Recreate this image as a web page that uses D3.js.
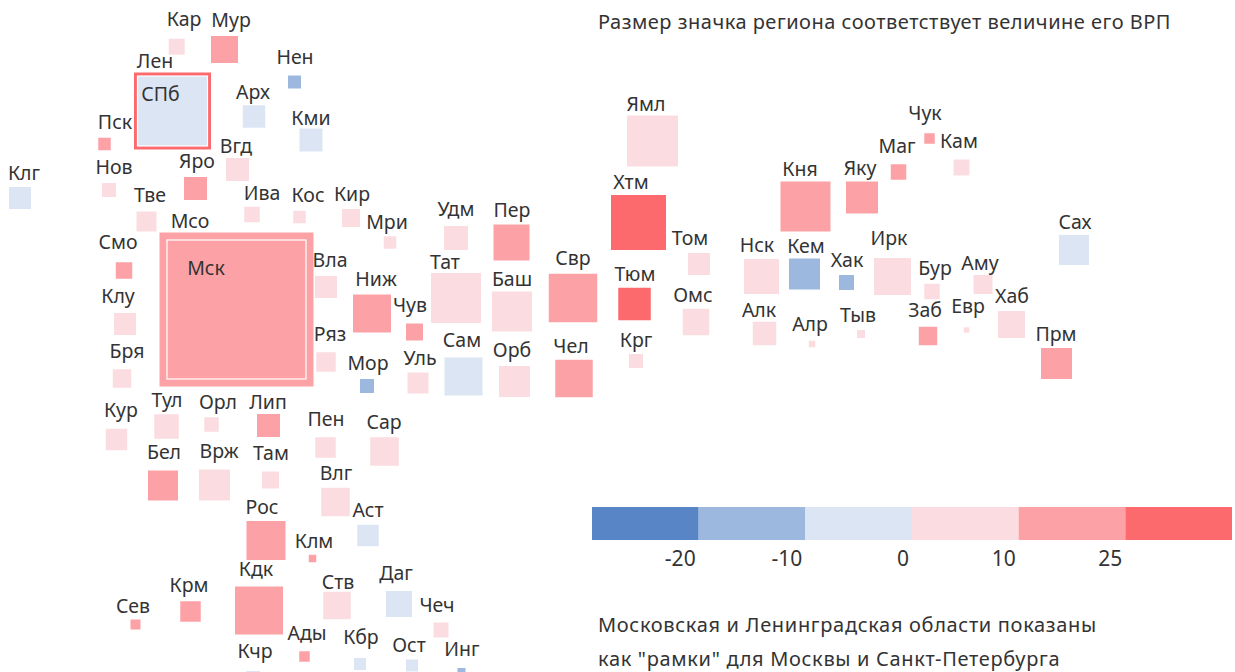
<!DOCTYPE html>
<html>
<head>
<meta charset="utf-8">
<script src="https://cdn.jsdelivr.net/npm/d3@7"></script>
<style>
html, body { margin: 0; padding: 0; background: #fff; overflow: hidden; }
text { font-family: "Noto Sans", sans-serif; fill: #333; }
</style>
</head>
<body>
<div id="plot"></div>
<script>
// regions of the tile map, all arrays below run in the same order
var regions = ['Кар','Мур','Нен','СПб','Арх','Кми','Пск','Вгд','Нов','Яро','Клг','Тве','Ива','Кос','Кир','Мри',
    'Мск','Смо','Вла','Ниж','Клу','Бря','Ряз','Мор','Уль','Сам','Кур','Тул','Орл','Лип','Пен','Сар',
    'Бел','Врж','Там','Влг','Аст','Рос','Клм','Кдк','Крм','Сев','Ств','Даг','Чеч','Ады','Кбр','Ост','Инг','Кчр',
    'Удм','Пер','Тат','Баш','Чув','Свр','Орб','Чел','Хтм','Тюм','Крг','Том','Омс','Ямл',
    'Чук','Кам','Маг','Кня','Яку','Сах','Нск','Кем','Хак','Ирк','Бур','Аму','Хаб','Алк','Алр','Тыв','Заб','Евр','Прм'];

// tile centres in map units
var mapX = [176.7,224.5,294.5,172.5,254,311,104.5,237.5,109,195.5,20,146.5,252,299.5,351,390,
    236.5,124,326,372,125,122,326,367,418,463.5,116.5,166.5,211.5,268.5,325.5,384.5,
    163,214.5,270.5,335.5,368,266,312.5,259,190.5,135.5,337,399,441,304.5,360,412,461.5,253,
    456,511.5,456,512,414.5,573,514.5,574,638.5,634.5,636,699,696,652.5,
    929.5,961.5,898.5,805.5,862,1074,761.5,804.5,846.5,892.5,932,983,1011.5,764.5,812,861,928,966.5,1056.5];
var mapY = [46.7,49.5,82,111,116.5,140,144,169.5,190,188.5,198,221.5,214.5,217,218,242.5,
    309.5,270.5,287,313.5,324,378.5,362,386,383,376.5,439.5,426.5,424.5,425.5,447.5,451.5,
    485.5,485,480,502,535.5,540.5,558.5,610.5,611.5,624.5,605.5,604,630,656.5,664,665.5,672,678,
    238,242.5,298,311.5,332,298,381.5,378.5,222.5,304,361,264,322,141,
    138.5,167.5,172,206.5,197.5,250,276.5,274,282.5,276.5,291.5,284.5,324.5,333.5,344,334,336,330,363.5];

// GRP, tile area follows it
var grp = [25.6,72.9,16.9,490,50.6,52.9,15.6,52.9,19.6,52.9,48.4,40,24,15.6,32.4,15.6,
    1932,27.2,48.4,144.4,48.4,34.2,38,19.6,44.1,144.4,46.2,60,21,52.9,42,81.2,
    90,96.1,28.9,81.2,46.2,152.1,5.6,230.4,42,10,75.6,67.6,22.5,11,14.4,14.4,6.4,19.6,
    57.6,129.6,250,160,28.9,235.2,96.1,140.6,302.5,105.6,19.6,48.4,70.2,260.1,
    11,25.6,24,250,102.4,90,122.5,96.1,22.5,136.9,24,36.1,72.9,55.2,4.2,6.4,34.2,3,96.1];

// GRP change, read by colour class from the legend
var growth = [5,15,-15,-5,-5,-5,15,5,5,15,-5,5,5,5,5,5,
    15,15,5,15,5,5,5,-15,5,-5,5,5,5,15,5,5,
    15,5,5,5,-5,15,15,15,15,15,5,-5,5,15,-5,-5,-15,-5,
    5,15,5,5,15,15,5,15,30,30,5,5,5,5,
    15,5,15,15,15,-5,5,-15,-15,5,5,5,5,5,5,5,15,5,15];

var labelX = [184,231,295,160.5,253,311,115,236,114,197,24,150,262,308,352,387,
    206,118,330,376,118,127,330,368,420,462,121,167,218,268,326,384,
    164,219,271,336,368,262,314,256,189,133,338,396,437,307,361,409,462,255,
    456,512,445,512,410,573,512,571,631,635,636,690,693,646,
    925,959,897,800,860,1075,757,806,847,889,935,980,1012,759,810,858,925,968,1056];
var labelY = [26,27,64,101,99,125,129,152.5,174,168,180,202,200,202,201,229,
    275,249,267,286,303,358,341,370,365,347,417,407,409,409,426,429,
    459,458,460,480,517,514,548,576,592,613,589,580,612,640,644,652,656,658,
    216,217,269,286,312,265,357,353,189,281,347,245,302,111,
    120,148,153,176,175,229,252,253,267,245,275,270,303,317,331,322,317,313,341];

// Oblasts drawn as frames round their cities
var frameRegions = ['Лен','Мсо'];
var frameHost = ['СПб','Мск'];
var frameGrp = [592.9,2371.6];
var frameGrowth = [30,15];
var frameLabelX = [155,190];
var frameLabelY = [68,228];

var legendTicks = [-20,-10,0,10,25];
var legendColors = ['#5885c5','#9cb8de','#dce5f4','#fbdde1','#fca2a6','#fc6a6e'];

var title = 'Размер значка региона соответствует величине его ВРП';
var notes = ['Московская и Ленинградская области показаны','как "рамки" для Москвы и Санкт-Петербурга'];

var width = 1235, height = 672;

var svg = d3.select('#plot').append('svg')
    .attr('width',width)
    .attr('height',height)
    .style('display','block');

var x = d3.scaleLinear().domain([0,1235]).range([0,width]);
var y = d3.scaleLinear().domain([0,672]).range([0,height]);
var side = d3.scaleSqrt().domain([0,2371.6]).range([0,154]);
var color = d3.scaleThreshold().domain(legendTicks).range(legendColors);

var tiles = regions.map(function(name,i){
    return {name:name, x:mapX[i], y:mapY[i], grp:grp[i], growth:growth[i], lx:labelX[i], ly:labelY[i]};
});
var frames = frameRegions.map(function(name,i){
    var host = tiles.find(function(t){ return t.name == frameHost[i]; });
    host.framed = true;
    return {name:name, x:host.x, y:host.y, grp:frameGrp[i], growth:frameGrowth[i], lx:frameLabelX[i], ly:frameLabelY[i]};
});

function drawSquares(cls,data){
    return svg.append('g').attr('class',cls)
        .selectAll('rect').data(data).enter().append('rect')
        .attr('x',function(d){ return x(d.x)-side(d.grp)/2; })
        .attr('y',function(d){ return y(d.y)-side(d.grp)/2; })
        .attr('width',function(d){ return side(d.grp); })
        .attr('height',function(d){ return side(d.grp); })
        .attr('fill',function(d){ return color(d.growth); });
}

drawSquares('frames',frames);
drawSquares('tiles',tiles)
    .attr('stroke',function(d){ return d.framed ? '#fff' : 'none'; })
    .attr('stroke-width',1.2);

svg.append('g').attr('class','labels')
    .selectAll('text').data(tiles.concat(frames)).enter().append('text')
    .attr('x',function(d){ return x(d.lx); })
    .attr('y',function(d){ return y(d.ly); })
    .attr('text-anchor','middle')
    .attr('font-size',19.5)
    .text(function(d){ return d.name; });

// legend
var legendX = d3.scaleLinear().domain([0,legendColors.length]).range([592,1232]);
var legend = svg.append('g').attr('class','legend');
legend.selectAll('rect').data(legendColors).enter().append('rect')
    .attr('x',function(d,i){ return legendX(i); })
    .attr('y',507)
    .attr('width',legendX(1)-legendX(0))
    .attr('height',33)
    .attr('fill',function(d){ return d; });
legend.selectAll('text').data(legendTicks).enter().append('text')
    .attr('x',function(d,i){ return legendX(i+1)-3; })
    .attr('y',566)
    .attr('text-anchor','end')
    .attr('font-size',21)
    .text(function(d){ return d; });

svg.append('text')
    .attr('x',598)
    .attr('y',29)
    .attr('font-size',20)
    .attr('letter-spacing',0.5)
    .text(title);

svg.selectAll('text.note').data(notes).enter().append('text')
    .attr('class','note')
    .attr('x',598)
    .attr('y',function(d,i){ return 632+i*34; })
    .attr('font-size',20)
    .attr('letter-spacing',0.67)
    .text(function(d){ return d; });
</script>
</body>
</html>
